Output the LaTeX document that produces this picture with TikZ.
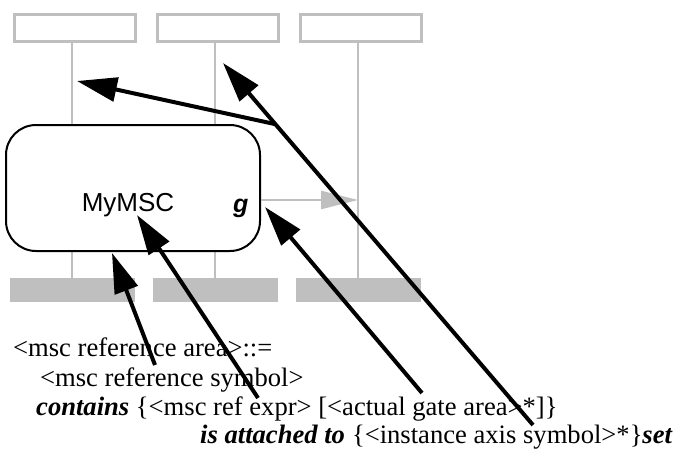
\documentclass[tikz,border=0pt]{standalone}
\usepackage{fontspec}
\setmainfont{Liberation Serif}
\setsansfont{Liberation Sans}
\usetikzlibrary{arrows.meta,calc}
\definecolor{axisgray}{RGB}{191,191,191}
\begin{document}
\begin{tikzpicture}[x=1pt,y=-1pt,
  headbox/.style={draw=axisgray,line width=3pt,minimum width=121pt,minimum height=27pt,inner sep=0pt},
  endbar/.style={fill=axisgray,minimum width=125pt,minimum height=24pt,inner sep=0pt},
  axis/.style={draw=axisgray,line width=2.4pt},
  refbox/.style={draw=black,fill=white,line width=2pt,rounded corners=30pt,minimum width=254pt,minimum height=126pt,inner sep=0pt},
  pointer/.style={line width=4pt,line join=round,-{Triangle[length=40pt,width=24pt]}},
  gatemsg/.style={draw=axisgray,line width=2.4pt,-{Triangle[length=37pt,width=18pt]}},
  rule/.style={anchor=base west,inner sep=0pt,font=\fontsize{26.6pt}{29pt}\selectfont}
]
\useasboundingbox (0,0) rectangle (677,450);

% instance heads
\node[headbox] (h1) at (75,28) {};
\node[headbox] (h2) at (218,28) {};
\node[headbox] (h3) at (361,28) {};

% instance ends
\node[endbar] (e1) at (72.5,290) {};
\node[endbar] (e2) at (215.5,290) {};
\node[endbar] (e3) at (358.5,290) {};

% instance axes
\coordinate (l1) at (72,0);
\coordinate (l2) at (215,0);
\coordinate (l3) at (358,0);
\draw[axis] (h1.south -| l1) -- (e1.north -| l1);
\draw[axis] (h2.south -| l2) -- (e2.north -| l2);
\draw[axis] (h3.south -| l3) -- (e3.north -| l3);

% msc reference
\node[refbox] (ref) at (133,188) {};
\node[anchor=base,inner sep=0pt,font=\sffamily\fontsize{26pt}{28pt}\selectfont] (name) at (128,211) {MyMSC};
\node[anchor=base west,inner sep=0pt,font=\sffamily\bfseries\itshape\fontsize{25pt}{28pt}\selectfont] (gate) at (233,212) {g};

% gate message
\coordinate (gout) at ($(ref.east)+(0,12)$);
\draw[gatemsg] (gout) -- (gout -| l3);

% grammar text
\node[rule] (r1) at (13,356) {<msc reference area>::=};
\node[rule] (r2) at (40,386) {<msc reference symbol>};
\node[rule] (r3) at (36,415) {\textbf{\textit{contains}} \{<msc ref expr> [<actual gate area>*]\}};
\node[rule] (r4) at (200,443) {\textbf{\textit{is attached to}}\hspace{7pt}\{<instance axis symbol>*\}\textbf{\textit{set}}};

% pointers from the grammar to the drawing
\coordinate (s1) at (533,425);
\coordinate (a2) at (223,63);
\coordinate (a1) at (77,81);
\coordinate (fork) at ($(s1)!0.831!(a2)$);
\draw[pointer] (s1) -- (a2);
\draw[pointer] (fork) -- (a1);

\coordinate (s2) at (155,365);
\coordinate (a3) at (112,253);
\draw[pointer] (s2) -- (a3);

\coordinate (s3) at (258,398);
\coordinate (a4) at (137,215);
\draw[pointer] (s3) -- (a4);

\coordinate (s4) at (422,393);
\coordinate (a5) at (265,207);
\draw[pointer] (s4) -- (a5);
\end{tikzpicture}
\end{document}
